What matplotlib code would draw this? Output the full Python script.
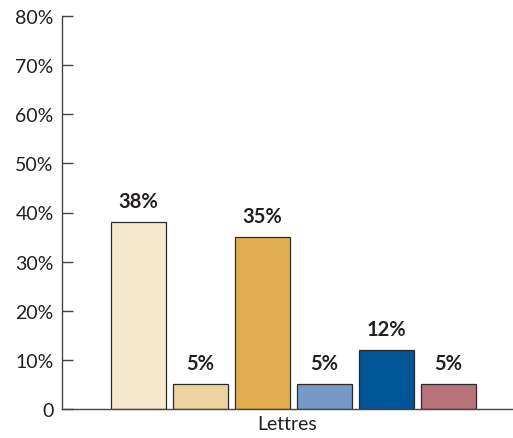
import matplotlib.pyplot as plt
import numpy as np

plt.rcParams['font.family'] = ['Lato', 'DejaVu Sans']

# Data
values = [38, 5, 35, 5, 12, 5]
labels = ["38%", "5%", "35%", "5%", "12%", "5%"]
colors = ['#F6E8CD', '#EDD3A0', '#E0B050', '#7799C6', '#005596', '#B9737B']
y_ticks = [0, 10, 20, 30, 40, 50, 60, 70, 80]
y_tick_labels = ["0", "10%", "20%", "30%", "40%", "50%", "60%", "70%", "80%"]
x_label = "Lettres"

fig = plt.figure(figsize=(5.13, 4.39), dpi=100)
ax = fig.add_axes([62 / 513, 29 / 439, 1 - 62 / 513, 393 / 439])

x = np.arange(len(values))
bars = ax.bar(x, values, width=0.89, color=colors, edgecolor='#2a2a2a', linewidth=0.9)

for xi, v, lab in zip(x, values, labels):
    ax.annotate(lab, (xi, v), xytext=(0, 8), textcoords='offset points',
                ha='center', va='bottom', fontsize=14.5, fontweight='bold', color='#231f20')

ax.set_xlim(-1.23, 6.04)
ax.set_ylim(0, 80)
ax.set_yticks(y_ticks)
ax.set_yticklabels(y_tick_labels, fontsize=14, color='#231f20')
ax.set_xticks([])
ax.set_xlabel(x_label, fontsize=14, color='#231f20', labelpad=4)

ax.tick_params(axis='y', direction='in', length=8, width=1, color='#444', pad=6)
for s in ['top', 'right']:
    ax.spines[s].set_visible(False)
for s in ['left', 'bottom']:
    ax.spines[s].set_color('#444')
    ax.spines[s].set_linewidth(1)

fig.savefig('out.png', dpi=100)
